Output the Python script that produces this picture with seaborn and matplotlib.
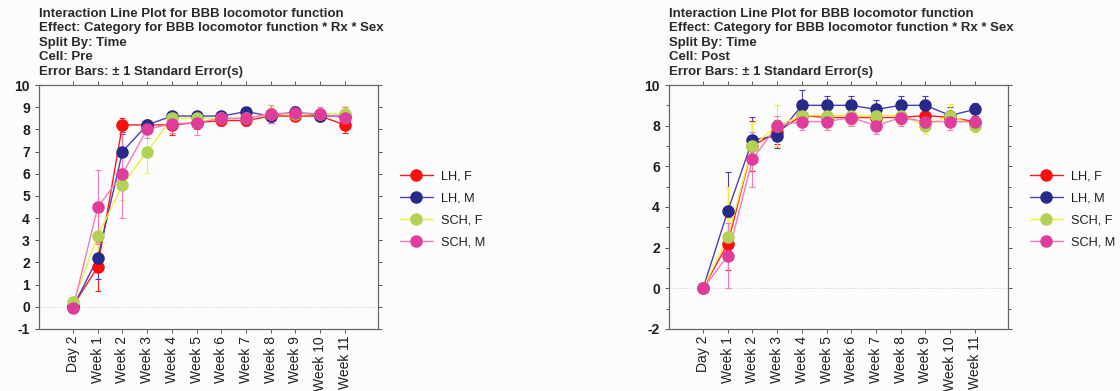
import numpy as np
import pandas as pd
import matplotlib
matplotlib.use("Agg")
import matplotlib.pyplot as plt
import seaborn as sns
from matplotlib.ticker import MultipleLocator

sns.set_theme(style="white")
plt.rcParams["font.family"] = ["Liberation Sans", "DejaVu Sans"]
plt.rcParams["axes.unicode_minus"] = False

timepoints = ["Day 2", "Week 1", "Week 2", "Week 3", "Week 4", "Week 5",
              "Week 6", "Week 7", "Week 8", "Week 9", "Week 10", "Week 11"]
groups = ["LH, F", "LH, M", "SCH, F", "SCH, M"]

# Pre-treatment cell: group means and standard errors
pre_lh_f = [0.05, 1.8, 8.2, 8.2, 8.2, 8.3, 8.4, 8.4, 8.6, 8.6, 8.6, 8.2]
pre_lh_m = [0.0, 2.2, 7.0, 8.2, 8.6, 8.6, 8.6, 8.8, 8.6, 8.8, 8.6, 8.6]
pre_sch_f = [0.2, 3.2, 5.5, 7.0, 8.5, 8.5, 8.5, 8.5, 8.7, 8.7, 8.7, 8.7]
pre_sch_m = [-0.05, 4.5, 6.0, 8.0, 8.25, 8.3, 8.5, 8.5, 8.7, 8.75, 8.7, 8.5]
pre_se_lh_f = [0.0, 1.1, 0.3, 0.2, 0.45, 0.3, 0.2, 0.2, 0.3, 0.2, 0.2, 0.35]
pre_se_lh_m = [0.0, 0.95, 0.8, 0.2, 0.2, 0.2, 0.2, 0.2, 0.3, 0.2, 0.2, 0.3]
pre_se_sch_f = [0.0, 0.9, 0.7, 0.95, 0.3, 0.3, 0.3, 0.3, 0.3, 0.3, 0.3, 0.35]
pre_se_sch_m = [0.0, 1.65, 2.0, 0.4, 0.4, 0.55, 0.35, 0.35, 0.4, 0.3, 0.3, 0.5]

# Post-treatment cell: group means and standard errors
post_lh_f = [0.0, 2.2, 7.0, 7.7, 8.5, 8.4, 8.4, 8.4, 8.4, 8.5, 8.4, 8.2]
post_lh_m = [0.0, 3.8, 7.3, 7.5, 9.0, 9.0, 9.0, 8.8, 9.0, 9.0, 8.5, 8.8]
post_sch_f = [0.0, 2.5, 7.0, 8.0, 8.5, 8.5, 8.5, 8.5, 8.5, 8.0, 8.5, 8.0]
post_sch_m = [0.0, 1.6, 6.35, 8.0, 8.2, 8.2, 8.4, 8.0, 8.4, 8.2, 8.2, 8.2]
post_se_lh_f = [0.0, 1.3, 1.25, 0.6, 0.3, 0.3, 0.3, 0.3, 0.3, 0.3, 0.3, 0.3]
post_se_lh_m = [0.0, 1.9, 1.15, 0.6, 0.75, 0.45, 0.45, 0.45, 0.45, 0.45, 0.4, 0.3]
post_se_sch_f = [0.0, 2.5, 1.2, 1.0, 0.4, 0.4, 0.4, 0.4, 0.4, 0.4, 0.55, 0.3]
post_se_sch_m = [0.0, 1.6, 1.35, 0.5, 0.4, 0.4, 0.4, 0.4, 0.4, 0.4, 0.4, 0.4]

line_colors = ["#ff1a1a", "#4a3fb0", "#f2ee3a", "#f27ac0"]
marker_colors = ["#ff0d0d", "#262a88", "#b2d256", "#df3c9b"]


def long_frame(means, ses):
    rows = []
    for g, m, s in zip(groups, means, ses):
        for i, t in enumerate(timepoints):
            rows.append({"pos": i, "Time": t, "Group": g, "BBB": m[i], "SE": s[i]})
    return pd.DataFrame(rows)


pre_df = long_frame([pre_lh_f, pre_lh_m, pre_sch_f, pre_sch_m],
                    [pre_se_lh_f, pre_se_lh_m, pre_se_sch_f, pre_se_sch_m])
post_df = long_frame([post_lh_f, post_lh_m, post_sch_f, post_sch_m],
                     [post_se_lh_f, post_se_lh_m, post_se_sch_f, post_se_sch_m])

fig = plt.figure(figsize=(11.2, 3.91), dpi=100, facecolor="#fcfcfc")
ax_pre = fig.add_axes([0.0348, 0.1586, 0.3027, 0.624])
ax_post = fig.add_axes([0.5973, 0.1586, 0.3027, 0.624])


def draw_panel(ax, df, cell, ylim, ystep, minor):
    ax.set_facecolor("#fcfcfc")
    ax.axhline(0, color="#c8c8c8", lw=0.6, ls=":", zorder=0)
    for g, lc, mc in zip(groups, line_colors, marker_colors):
        sub = df[df["Group"] == g]
        ax.errorbar(sub["pos"], sub["BBB"], yerr=sub["SE"], fmt="none",
                    ecolor=lc, elinewidth=0.8, capsize=2.2, capthick=0.8, zorder=2)
    sns.lineplot(data=df, x="pos", y="BBB", hue="Group", hue_order=groups,
                 palette=line_colors, lw=1.0, ax=ax, legend=False, zorder=3,
                 sort=False, estimator=None)
    for g, lc, mc in zip(groups, line_colors, marker_colors):
        sub = df[df["Group"] == g]
        ax.plot(sub["pos"], sub["BBB"], ls="none", marker="o", ms=8,
                mfc=mc, mec=mc, zorder=4)
    ax.set_xlim(-1.38, 12.34)
    ax.set_ylim(*ylim)
    ax.set_xticks(range(len(timepoints)))
    ax.set_xticklabels(timepoints, rotation=90, fontsize=10, color="#1e1e1e")
    ax.yaxis.set_major_locator(MultipleLocator(ystep))
    if minor:
        ax.yaxis.set_minor_locator(MultipleLocator(minor))
    ax.tick_params(axis="y", labelsize=10, colors="#222222", labelcolor="#1e1e1e")
    for lab in ax.get_yticklabels():
        lab.set_fontweight("bold")
    ax.tick_params(which="both", direction="out", length=3, width=0.7,
                   color="#555555", top=True, right=True, bottom=True, left=True)
    ax.tick_params(axis="x", pad=2)
    ax.tick_params(which="minor", length=2)
    ax.set_xlabel("")
    ax.set_ylabel("")
    for sp in ax.spines.values():
        sp.set_color("#666666")
        sp.set_linewidth(0.9)

    title = ("Interaction Line Plot for BBB locomotor function\n"
             "Effect: Category for BBB locomotor function * Rx * Sex\n"
             "Split By: Time\n"
             f"Cell: {cell}\n"
             "Error Bars: \u00b1 1 Standard Error(s)")
    ax.text(0.0, 1.03, title, transform=ax.transAxes, ha="left", va="bottom",
            fontsize=9.5, fontweight="bold", color="#2a2a2a", linespacing=1.27)

    handles = []
    for g, lc, mc in zip(groups, line_colors, marker_colors):
        h, = ax.plot([], [], color=lc, lw=1.0, marker="o", ms=8, mfc=mc, mec=mc)
        handles.append(h)
    ax.legend(handles, groups, loc="center left", bbox_to_anchor=(1.03, 0.49),
              frameon=False, fontsize=9.2, labelspacing=0.8, handlelength=2.6,
              handletextpad=0.65, labelcolor="#1e1e1e")


draw_panel(ax_pre, pre_df, "Pre", (-1, 10), 1, None)
draw_panel(ax_post, post_df, "Post", (-2, 10), 2, 1)

fig.savefig("out.png", dpi=100, facecolor=fig.get_facecolor())
